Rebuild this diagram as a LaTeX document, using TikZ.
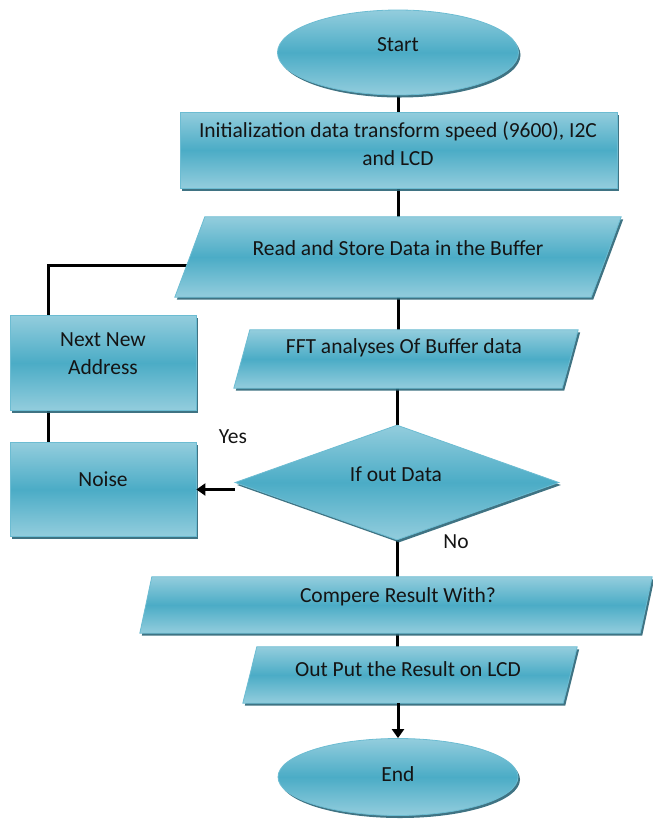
\documentclass[tikz,border=0pt]{standalone}
\usepackage{fontspec}
\setmainfont{Carlito}
\usetikzlibrary{shapes.geometric,shadows,arrows.meta,backgrounds}
\definecolor{lt}{HTML}{93CDDD}
\definecolor{dk}{HTML}{4BACC6}
\definecolor{edgec}{HTML}{6CBCD2}
\definecolor{shd}{HTML}{2A6475}
\tikzset{
 box/.style={draw=edgec, line width=0.8pt, top color=lt, bottom color=lt, middle color=dk,
   drop shadow={shadow xshift=2pt, shadow yshift=-2.5pt, fill=shd, opacity=0.9}, inner sep=0pt},
 frame/.style={rectangle, inner sep=0pt},
 txt/.style={font=\fontsize{21.5pt}{28pt}\selectfont, text=black!92, align=center, inner sep=0pt},
 conn/.style={line width=3pt, black},
 arr/.style={conn, -{Triangle[length=9pt,width=12pt]}},
}
\newcommand{\parashape}[2]{%
  \path[box] ([xshift=#2]#1.north west) -- ([xshift=#2]#1.north east) --
    ([xshift=-#2]#1.south east) -- ([xshift=-#2]#1.south west) -- cycle;}
\begin{document}
\begin{tikzpicture}[x=1pt,y=-1pt]
\useasboundingbox (0,0) rectangle (653,823);
% shapes
\node[box, ellipse, minimum width=241pt, minimum height=85pt] (start) at (398,52.5) {};
\node[box, rectangle, minimum width=437pt, minimum height=76pt] (init) at (398.5,150) {};
\node[frame, minimum width=416pt, minimum height=80pt] (read) at (398,257) {};
\parashape{read}{15pt}
\node[box, rectangle, minimum width=186pt, minimum height=95pt] (nna) at (103,363) {};
\node[frame, minimum width=328pt, minimum height=58pt] (fft) at (406,359) {};
\parashape{fft}{8pt}
\node[box, rectangle, minimum width=186pt, minimum height=94pt] (noise) at (103,489.5) {};
\node[box, diamond, minimum width=324pt, minimum height=115pt] (dia) at (397,482.5) {};
\node[frame, minimum width=500pt, minimum height=56pt] (comp) at (396,605) {};
\parashape{comp}{6pt}
\node[frame, minimum width=320pt, minimum height=56pt] (out) at (410,675) {};
\parashape{out}{7pt}
\node[box, ellipse, minimum width=240pt, minimum height=77pt] (end) at (398,777) {};
% connectors
\begin{pgfonlayer}{background}
\draw[conn] (start.south) -- (start.south |- init.north);
\draw[conn] (init.south) -- (init.south |- read.north);
\draw[conn] (read.south) -- (read.south |- fft.north);
\draw[conn] (dia.north |- fft.south) -- (dia.north);
\coordinate (fb) at ([yshift=-8pt]read.west);
\draw[conn] (fb) -| ([xshift=-55pt]nna.north);
\draw[conn] ([xshift=-55pt]nna.south) -- ([xshift=-55pt]noise.north);
\draw[conn] (dia.south) -- (dia.south |- comp.north);
\draw[conn] (dia.south |- comp.south) -- (dia.south |- out.north);
\end{pgfonlayer}
\draw[arr] (dia.west |- noise.east) -- (noise.east);
\draw[arr] (end.north |- out.south) -- (end.north);
% texts
\node[txt] (tstart) at (398,45) {Start};
\node[txt] (tinit) at (398,144) {Initialization data transform speed (9600), I2C\\and LCD};
\node[txt] (tread) at (398,248) {Read and Store Data in the Buffer};
\node[txt] (tnna) at (103,354) {Next New\\Address};
\node[txt] (tfft) at (404,348) {FFT analyses Of Buffer data};
\node[txt] (tnoise) at (103,479) {Noise};
\node[txt] (tdia) at (396,474) {If out Data};
\node[txt] (tyes) at (233,437) {Yes};
\node[txt] (tno) at (456,542) {No};
\node[txt] (tcomp) at (398,597) {Compere Result With?};
\node[txt] (tout) at (408,669) {Out Put the Result on LCD};
\node[txt] (tend) at (398,774) {End};
\end{tikzpicture}
\end{document}
